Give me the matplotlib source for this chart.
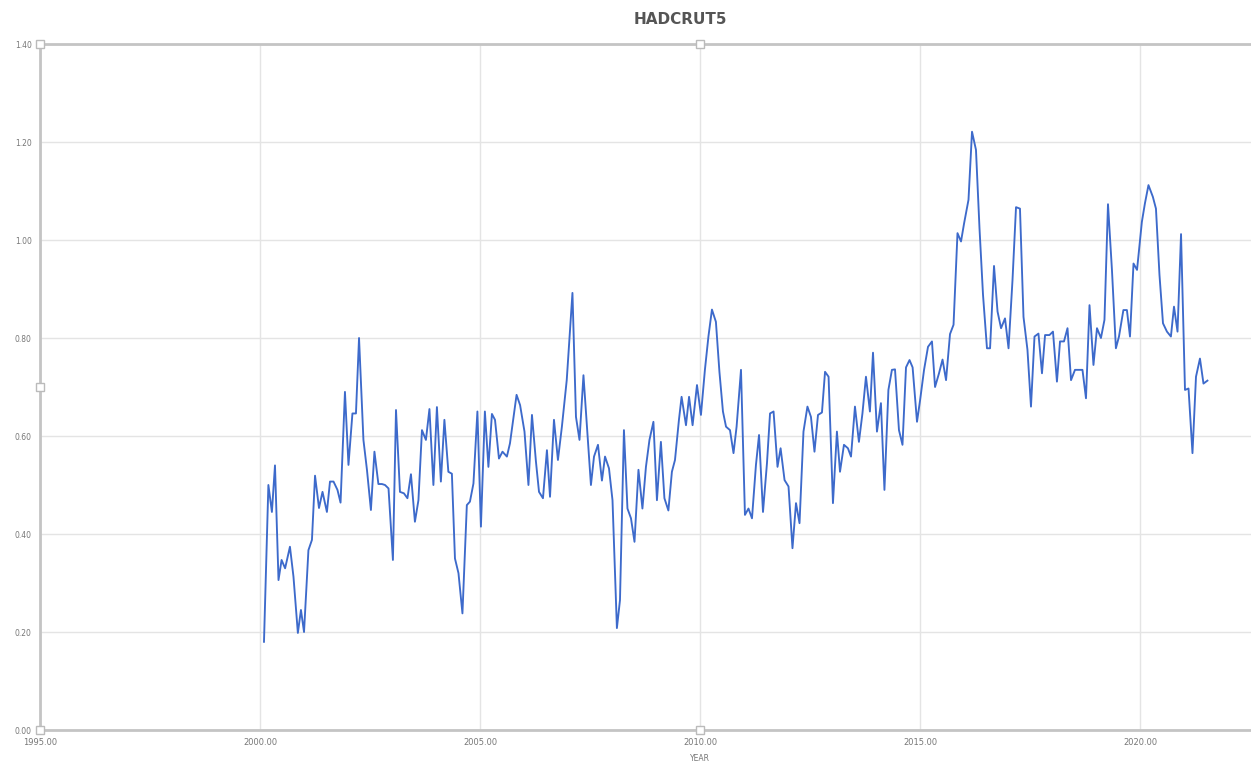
import matplotlib
matplotlib.use('Agg')
import matplotlib.pyplot as plt

# Anomalía mensual HADCRUT5
anios = [
    2000.09, 2000.19, 2000.27, 2000.34, 2000.42, 2000.49, 2000.57, 2000.68, 2000.76, 2000.86, 2000.93,
    2001.00, 2001.10, 2001.18, 2001.25, 2001.34, 2001.42, 2001.52, 2001.59, 2001.67, 2001.76, 2001.83, 2001.93,
    2002.01, 2002.10, 2002.18, 2002.25, 2002.35, 2002.43, 2002.52, 2002.60, 2002.69, 2002.77, 2002.84, 2002.92,
    2003.02, 2003.09, 2003.18, 2003.27, 2003.35, 2003.43, 2003.52, 2003.60, 2003.68, 2003.77, 2003.85, 2003.94,
    2004.02, 2004.11, 2004.19, 2004.28, 2004.36, 2004.43, 2004.51, 2004.60, 2004.70, 2004.77, 2004.85, 2004.94,
    2005.02, 2005.11, 2005.19, 2005.27, 2005.34, 2005.43, 2005.51, 2005.61, 2005.68, 2005.83, 2005.91,
    2006.01, 2006.10, 2006.18, 2006.27, 2006.34, 2006.43, 2006.52, 2006.59, 2006.68, 2006.77, 2006.86, 2006.97,
    2007.10, 2007.18, 2007.26, 2007.35, 2007.43, 2007.52, 2007.59, 2007.68, 2007.77, 2007.84, 2007.93,
    2008.01, 2008.11, 2008.18, 2008.27, 2008.35, 2008.43, 2008.51, 2008.60, 2008.69, 2008.77, 2008.85, 2008.94,
    2009.02, 2009.11, 2009.19, 2009.28, 2009.36, 2009.43, 2009.52, 2009.58, 2009.68, 2009.75, 2009.83, 2009.93,
    2010.02, 2010.11, 2010.19, 2010.27, 2010.36, 2010.44, 2010.52, 2010.59, 2010.68, 2010.76, 2010.83, 2010.93,
    2011.02, 2011.10, 2011.18, 2011.27, 2011.34, 2011.43, 2011.52, 2011.59, 2011.67, 2011.76, 2011.83, 2011.92,
    2012.01, 2012.10, 2012.18, 2012.26, 2012.35, 2012.44, 2012.52, 2012.60, 2012.68, 2012.77, 2012.84, 2012.92,
    2013.02, 2013.11, 2013.18, 2013.27, 2013.36, 2013.43, 2013.52, 2013.61, 2013.69, 2013.77, 2013.86, 2013.93,
    2014.02, 2014.11, 2014.19, 2014.28, 2014.36, 2014.43, 2014.52, 2014.60, 2014.68, 2014.76, 2014.83, 2014.93,
    2015.00, 2015.09, 2015.18, 2015.27, 2015.34, 2015.43, 2015.51, 2015.59, 2015.68, 2015.76, 2015.85, 2015.93,
    2016.00, 2016.10, 2016.18, 2016.27, 2016.35, 2016.43, 2016.52, 2016.59, 2016.68, 2016.76, 2016.84, 2016.93,
    2017.01, 2017.10, 2017.18, 2017.27, 2017.35, 2017.44, 2017.52, 2017.60, 2017.69, 2017.77, 2017.84, 2017.94,
    2018.02, 2018.11, 2018.18, 2018.27, 2018.35, 2018.43, 2018.52, 2018.60, 2018.69, 2018.77, 2018.85, 2018.94,
    2019.02, 2019.11, 2019.19, 2019.27, 2019.36, 2019.45, 2019.52, 2019.62, 2019.70, 2019.77, 2019.85, 2019.93,
    2020.04, 2020.11, 2020.19, 2020.29, 2020.36, 2020.44, 2020.52, 2020.61, 2020.70, 2020.77, 2020.85, 2020.93,
    2021.02, 2021.10, 2021.19, 2021.27, 2021.36, 2021.44, 2021.53,
]
anomalia = [
    0.18, 0.50, 0.445, 0.54, 0.306, 0.347, 0.33, 0.374, 0.313, 0.198, 0.245,
    0.20, 0.367, 0.388, 0.519, 0.453, 0.486, 0.445, 0.507, 0.507, 0.49, 0.464, 0.69,
    0.541, 0.646, 0.646, 0.80, 0.592, 0.531, 0.449, 0.568, 0.502, 0.502, 0.50, 0.493,
    0.347, 0.653, 0.486, 0.483, 0.473, 0.522, 0.425, 0.469, 0.612, 0.592, 0.655, 0.50,
    0.659, 0.507, 0.633, 0.527, 0.523, 0.35, 0.32, 0.238, 0.459, 0.466, 0.503, 0.65,
    0.415, 0.65, 0.537, 0.645, 0.633, 0.554, 0.568, 0.558, 0.585, 0.684, 0.663,
    0.609, 0.50, 0.643, 0.548, 0.486, 0.473, 0.571, 0.476, 0.633, 0.551, 0.619, 0.714,
    0.892, 0.639, 0.592, 0.724, 0.619, 0.50, 0.558, 0.582, 0.509, 0.558, 0.534,
    0.469, 0.208, 0.265, 0.612, 0.452, 0.432, 0.384, 0.531, 0.452, 0.537, 0.592, 0.629,
    0.469, 0.588, 0.473, 0.448, 0.527, 0.551, 0.633, 0.68, 0.622, 0.68, 0.622, 0.704,
    0.643, 0.735, 0.803, 0.858, 0.833, 0.731, 0.65, 0.619, 0.612, 0.565, 0.619, 0.735,
    0.439, 0.452, 0.432, 0.541, 0.602, 0.445, 0.544, 0.646, 0.65, 0.537, 0.575, 0.51,
    0.497, 0.371, 0.463, 0.422, 0.609, 0.66, 0.639, 0.568, 0.643, 0.648, 0.731, 0.721,
    0.463, 0.609, 0.527, 0.582, 0.575, 0.558, 0.66, 0.588, 0.646, 0.721, 0.65, 0.77,
    0.609, 0.667, 0.49, 0.694, 0.735, 0.736, 0.612, 0.582, 0.74, 0.755, 0.74, 0.629,
    0.673, 0.735, 0.782, 0.793, 0.70, 0.728, 0.756, 0.714, 0.808, 0.827, 1.014, 0.997,
    1.034, 1.082, 1.221, 1.184, 1.024, 0.888, 0.779, 0.779, 0.947, 0.854, 0.82, 0.84,
    0.779, 0.918, 1.067, 1.064, 0.843, 0.776, 0.66, 0.803, 0.809, 0.728, 0.806, 0.806,
    0.813, 0.711, 0.793, 0.793, 0.82, 0.714, 0.735, 0.735, 0.735, 0.677, 0.867, 0.745,
    0.82, 0.80, 0.837, 1.073, 0.939, 0.779, 0.803, 0.857, 0.857, 0.803, 0.952, 0.939,
    1.037, 1.075, 1.112, 1.088, 1.064, 0.929, 0.83, 0.813, 0.803, 0.864, 0.813, 1.012,
    0.694, 0.697, 0.565, 0.721, 0.758, 0.707, 0.713,
]

x_ticks = [1995, 2000, 2005, 2010, 2015, 2020]
y_ticks = [0.0, 0.2, 0.4, 0.6, 0.8, 1.0, 1.2, 1.4]

fig = plt.figure(figsize=(12.51, 7.63), dpi=100)
ax = fig.add_axes([40 / 1251, 1 - 730 / 763, 1 - 40 / 1251, (730 - 44) / 763])

ax.plot(anios, anomalia, color='#3d6acb', linewidth=1.35, zorder=3)

ax.set_xlim(1995, 2022.52)
ax.set_ylim(0, 1.4)
ax.set_xticks(x_ticks)
ax.set_yticks(y_ticks)
ax.set_xticklabels([f'{v:.2f}' for v in x_ticks], fontsize=6, color='#777777')
ax.set_yticklabels([f'{v:.2f}' for v in y_ticks], fontsize=5.5, color='#777777')
ax.tick_params(length=0, pad=6)
ax.grid(True, color='#e4e4e4', linewidth=1.0, zorder=0)

ax.spines['right'].set_visible(False)
for lado in ['left', 'bottom', 'top']:
    ax.spines[lado].set_color('#c4c4c4')
    ax.spines[lado].set_linewidth(2)

# cuadraditos de selección del gráfico original
ax.plot([1995, 2010, 1995, 1995, 2010], [1.4, 1.4, 0.7, 0.0, 0.0], linestyle='none',
        marker='s', markersize=6, markerfacecolor='white', markeredgecolor='#bbbbbb',
        markeredgewidth=1, clip_on=False, zorder=5)

ax.set_xlabel('YEAR', fontsize=5.5, color='#777777')
ax.xaxis.set_label_coords((2010 - 1995) / (2022.52 - 1995), -0.035)
fig.text(680 / 1251, 1 - 20 / 763, 'HADCRUT5', ha='center', va='center',
         fontsize=11, fontweight='bold', color='#555555')

fig.savefig('out.png', dpi=100, facecolor='white')
